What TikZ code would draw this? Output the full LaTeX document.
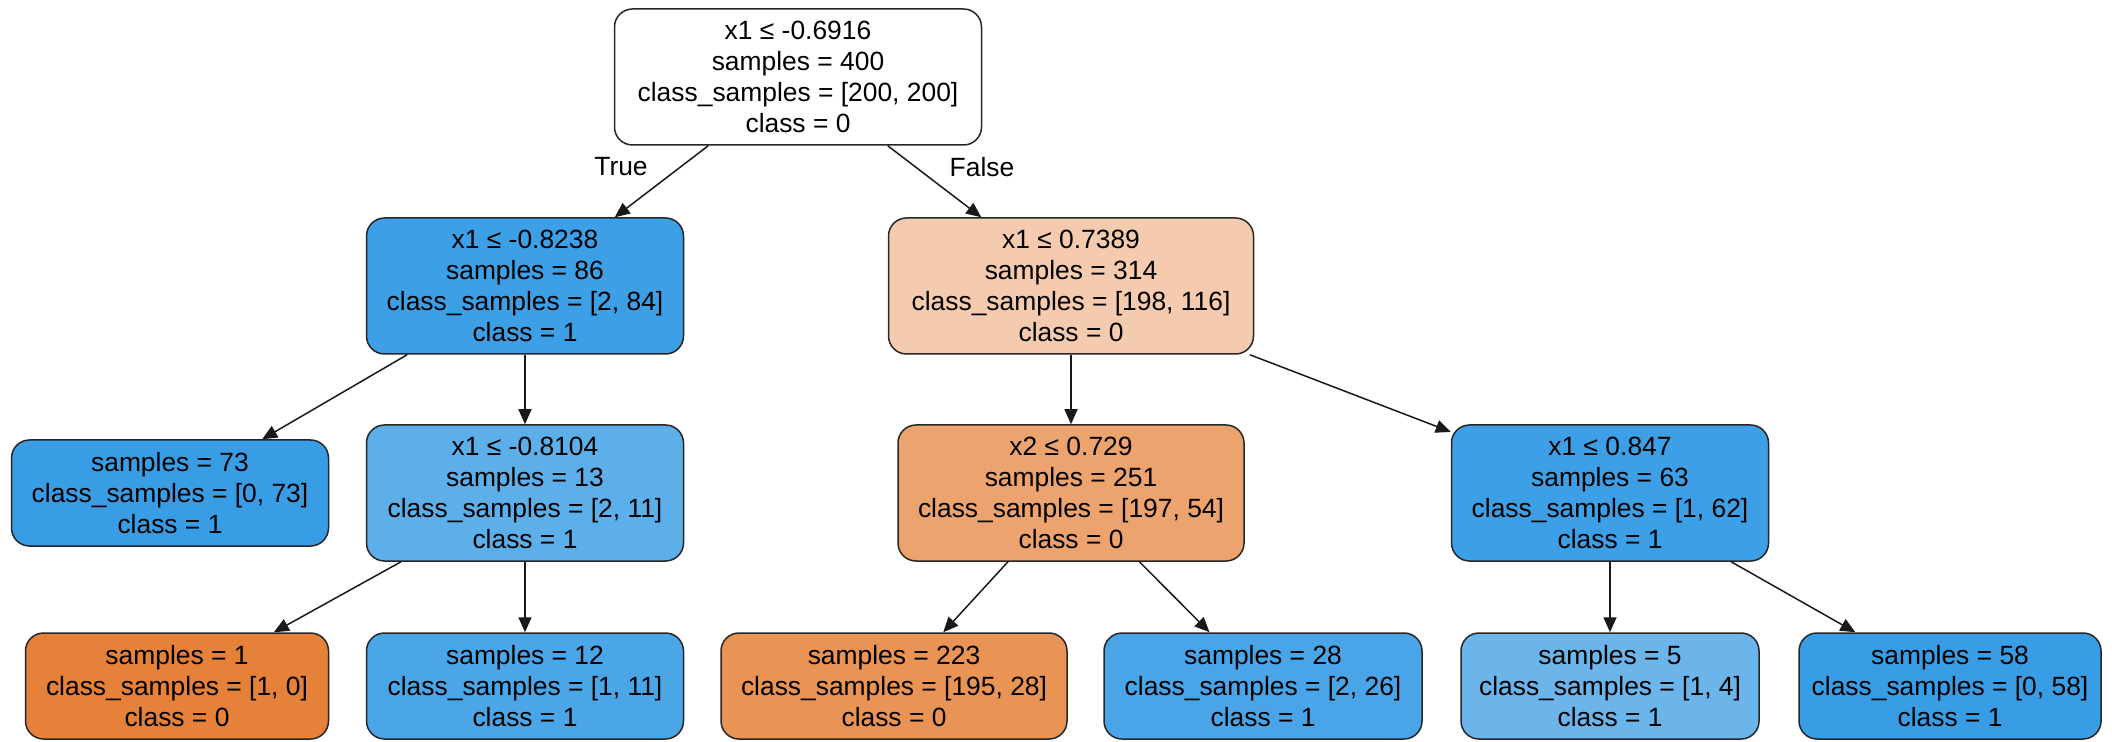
\documentclass[tikz,border=0pt]{standalone}
\usepackage{fontspec}
\setmainfont{Liberation Sans}
\usetikzlibrary{arrows.meta}
\definecolor{orangecls}{RGB}{229,129,57}
\definecolor{bluecls}{RGB}{57,157,229}

\begin{document}
\begin{tikzpicture}[x=0.5pt, y=-0.5pt,
    split/.style={draw=black!85, rounded corners=9pt, line width=0.75pt, align=center,
      inner sep=0pt, minimum height=68pt, font=\fontsize{13.2}{15.5}\selectfont},
    leaf/.style={split, minimum height=53pt},
    arr/.style={-{Triangle[length=7.5pt, width=6.5pt]}, line width=0.75pt, black!90}]
        \useasboundingbox (0,0) rectangle (2112,742);
        \node[split, fill=white, minimum width=183.5pt] (A) at (798,77) {x1 ≤ -0.6916\\samples = 400\\class\_samples = [200, 200]\\class = 0};
        \node[split, fill=bluecls!98!white, minimum width=158.5pt] (B) at (525,286) {x1 ≤ -0.8238\\samples = 86\\class\_samples = [2, 84]\\class = 1};
        \node[split, fill=orangecls!41!white, minimum width=182.5pt] (C) at (1071,286) {x1 ≤ 0.7389\\samples = 314\\class\_samples = [198, 116]\\class = 0};
        \node[leaf, fill=bluecls, minimum width=158.5pt] (D) at (170,493) {samples = 73\\class\_samples = [0, 73]\\class = 1};
        \node[split, fill=bluecls!82!white, minimum width=158.5pt] (E) at (525,493) {x1 ≤ -0.8104\\samples = 13\\class\_samples = [2, 11]\\class = 1};
        \node[split, fill=orangecls!73!white, minimum width=173pt] (F) at (1071,493) {x2 ≤ 0.729\\samples = 251\\class\_samples = [197, 54]\\class = 0};
        \node[split, fill=bluecls!98!white, minimum width=158.5pt] (G) at (1610,493) {x1 ≤ 0.847\\samples = 63\\class\_samples = [1, 62]\\class = 1};
        \node[leaf, fill=orangecls, minimum width=151.5pt] (H) at (177,686) {samples = 1\\class\_samples = [1, 0]\\class = 0};
        \node[leaf, fill=bluecls!91!white, minimum width=158.5pt] (I) at (525,686) {samples = 12\\class\_samples = [1, 11]\\class = 1};
        \node[leaf, fill=orangecls!86!white, minimum width=173pt] (J) at (894,686) {samples = 223\\class\_samples = [195, 28]\\class = 0};
        \node[leaf, fill=bluecls!92!white, minimum width=159pt] (K) at (1263,686) {samples = 28\\class\_samples = [2, 26]\\class = 1};
        \node[leaf, fill=bluecls!75!white, minimum width=149pt] (L) at (1610,686) {samples = 5\\class\_samples = [1, 4]\\class = 1};
        \node[leaf, fill=bluecls, minimum width=151pt] (M) at (1950,686) {samples = 58\\class\_samples = [0, 58]\\class = 1};
        % edges
        \draw[arr] (A) -- (B);
        \draw[arr] (A) -- (C);
        \node[font=\fontsize{13.2}{15.5}\selectfont] (T) at (621,167) {True};
        \node[font=\fontsize{13.2}{15.5}\selectfont] (Fa) at (982,167) {False};
        \draw[arr] (B) -- (D);
        \draw[arr] (B) -- (E);
        \draw[arr] (C) -- (F);
        \draw[arr] (C) -- (G);
        \draw[arr] (E) -- (H);
        \draw[arr] (E) -- (I);
        \draw[arr] (F) -- (J);
        \draw[arr] (F) -- (K);
        \draw[arr] (G) -- (L);
        \draw[arr] (G) -- (M);
    \end{tikzpicture}
\end{document}
